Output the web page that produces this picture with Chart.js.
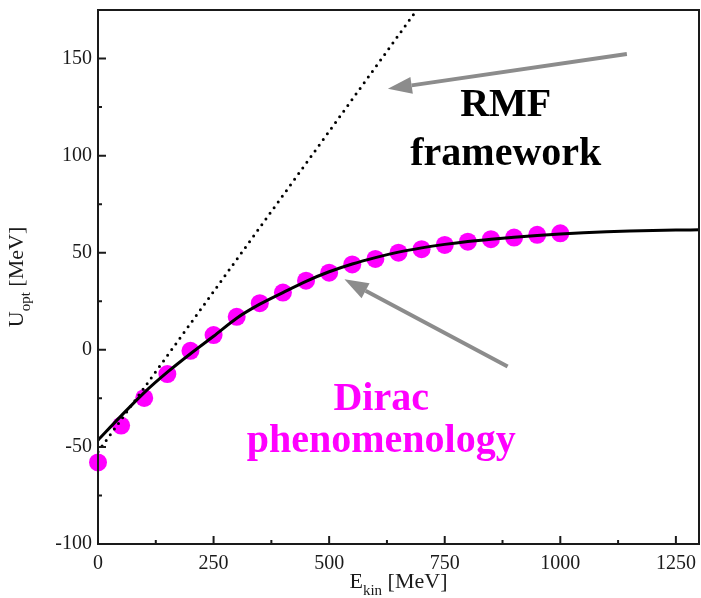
<!DOCTYPE html>
<html>
<head>
<meta charset="utf-8">
<script src="https://cdn.jsdelivr.net/npm/chart.js@4.4.1/dist/chart.umd.min.js"></script>
<style>
  html, body { margin: 0; padding: 0; background: #fff; overflow: hidden; }
  canvas { display: block; }
</style>
</head>
<body>
<canvas id="uoptChart" width="701" height="598"></canvas>
<script>
// Dirac phenomenology points (MeV)
const diracE = [0, 50, 100, 150, 200, 250, 300, 350, 400, 450, 500, 550, 600, 650, 700, 750, 800, 850, 900, 950, 1000];
const diracU = [-58, -39, -24.8, -12.5, -0.5, 7.6, 17, 24, 29.5, 35.6, 39.7, 44, 46.8, 50, 51.8, 54, 55.7, 57, 57.8, 59.2, 60];

// smooth fit curve
const fitE = [0, 50, 100, 150, 200, 250, 300, 350, 400, 450, 500, 550, 600, 650, 700, 750, 800, 850, 900, 950, 1000, 1050, 1100, 1150, 1200, 1250, 1300];
const fitU = [-46.5, -34, -22, -11.5, -2, 7, 16.3, 23.5, 29.5, 35.3, 40.2, 44.2, 47.5, 50.3, 52.5, 54.3, 55.8, 57.0, 58.0, 58.9, 59.7, 60.3, 60.8, 61.2, 61.5, 61.7, 61.8];

// RMF framework (straight line)
const rmfE = [0, 700];
const rmfU = [-52.5, 178.5];

const xTicks = [0, 250, 500, 750, 1000, 1250];
const yTicks = [-100, -50, 0, 50, 100, 150];

const pts = (xs, ys) => xs.map((v, i) => ({ x: v, y: ys[i] }));

const MAGENTA = '#ff00ff';
const INK = '#1a1a1a';
const SERIF = '"Liberation Serif", "Times New Roman", serif';

// frame, inward ticks, axis titles, arrows and labels
const decorations = {
    id: 'decorations',
    afterDraw(chart) {
        const { ctx, chartArea: a, scales: { x, y } } = chart;
        ctx.save();

        // frame
        ctx.strokeStyle = INK;
        ctx.lineWidth = 2;
        ctx.strokeRect(a.left, a.top, a.right - a.left, a.bottom - a.top);

        // ticks pointing into the plot
        ctx.beginPath();
        for (let v = 0; v <= 1300; v += 125) {
            const px = x.getPixelForValue(v);
            const len = v % 250 === 0 ? 8 : 4;
            ctx.moveTo(px, a.bottom); ctx.lineTo(px, a.bottom - len);
        }
        for (let v = -100; v <= 175; v += 25) {
            const py = y.getPixelForValue(v);
            const len = v % 50 === 0 ? 8 : 4;
            ctx.moveTo(a.left, py); ctx.lineTo(a.left + len, py);
        }
        ctx.stroke();

        // axis titles with subscripts
        ctx.fillStyle = INK;
        ctx.textBaseline = 'alphabetic';
        const drawTitle = (main, sub, rest) => {
            ctx.font = '22px ' + SERIF;
            const w1 = ctx.measureText(main).width;
            const w3 = ctx.measureText(rest).width;
            ctx.font = '15px ' + SERIF;
            const w2 = ctx.measureText(sub).width;
            let cx = -(w1 + w2 + w3) / 2;
            ctx.font = '22px ' + SERIF;
            ctx.fillText(main, cx, 0); cx += w1;
            ctx.font = '15px ' + SERIF;
            ctx.fillText(sub, cx, 7); cx += w2;
            ctx.font = '22px ' + SERIF;
            ctx.fillText(rest, cx, 0);
        };
        ctx.save();
        ctx.translate((a.left + a.right) / 2, 588);
        drawTitle('E', 'kin', ' [MeV]');
        ctx.restore();
        ctx.save();
        ctx.translate(23, (a.top + a.bottom) / 2);
        ctx.rotate(-Math.PI / 2);
        drawTitle('U', 'opt', ' [MeV]');
        ctx.restore();

        // arrows
        const arrow = (e0, u0, e1, u1) => {
            const x0 = x.getPixelForValue(e0), y0 = y.getPixelForValue(u0);
            const x1 = x.getPixelForValue(e1), y1 = y.getPixelForValue(u1);
            const ang = Math.atan2(y1 - y0, x1 - x0);
            const head = 24, half = 8.5;
            const bx = x1 - head * Math.cos(ang), by = y1 - head * Math.sin(ang);
            ctx.strokeStyle = '#8c8c8c';
            ctx.fillStyle = '#8c8c8c';
            ctx.lineWidth = 4;
            ctx.beginPath();
            ctx.moveTo(x0, y0); ctx.lineTo(bx, by);
            ctx.stroke();
            ctx.beginPath();
            ctx.moveTo(x1, y1);
            ctx.lineTo(bx + half * Math.sin(ang), by - half * Math.cos(ang));
            ctx.lineTo(bx - half * Math.sin(ang), by + half * Math.cos(ang));
            ctx.closePath();
            ctx.fill();
        };
        arrow(1144, 152.3, 627, 134.4);
        arrow(886, -8.6, 533, 36.3);

        // labels
        ctx.font = 'bold 40px ' + SERIF;
        ctx.textAlign = 'center';
        ctx.fillStyle = '#000';
        ctx.fillText('RMF', x.getPixelForValue(882), y.getPixelForValue(120.2));
        ctx.fillText('framework', x.getPixelForValue(882), y.getPixelForValue(95.3));
        ctx.fillStyle = MAGENTA;
        ctx.fillText('Dirac', x.getPixelForValue(612.6), y.getPixelForValue(-31.1));
        ctx.fillText('phenomenology', x.getPixelForValue(612.6), y.getPixelForValue(-52.6));

        ctx.restore();
    }
};

new Chart(document.getElementById('uoptChart'), {
    type: 'scatter',
    data: {
        datasets: [
            {
                label: 'Dirac phenomenology',
                data: pts(diracE, diracU),
                backgroundColor: MAGENTA,
                borderWidth: 0,
                pointRadius: 9,
                showLine: false,
                clip: false,
                order: 3
            },
            {
                label: 'fit',
                data: pts(fitE, fitU),
                borderColor: '#000',
                borderWidth: 3,
                pointRadius: 0,
                showLine: true,
                cubicInterpolationMode: 'monotone',
                order: 2
            },
            {
                label: 'RMF framework',
                data: pts(rmfE, rmfU),
                borderColor: '#000',
                borderWidth: 3,
                borderCapStyle: 'round',
                borderDash: [0, 7],
                pointRadius: 0,
                showLine: true,
                clip: 0,
                order: 1
            }
        ]
    },
    options: {
        responsive: false,
        animation: false,
        devicePixelRatio: 1,
        layout: { autoPadding: false, padding: { top: 10, right: 2, left: 0, bottom: 0 } },
        plugins: {
            legend: { display: false },
            tooltip: { enabled: false }
        },
        scales: {
            x: {
                type: 'linear',
                min: 0,
                max: 1300,
                grid: { display: false, drawTicks: false },
                border: { display: false },
                afterBuildTicks: s => { s.ticks = xTicks.map(v => ({ value: v })); },
                afterFit: s => { s.height = 54; s.paddingLeft = 0; s.paddingRight = 0; },
                ticks: {
                    padding: 8,
                    color: INK,
                    maxRotation: 0,
                    autoSkip: false,
                    callback: v => String(v),
                    font: { family: SERIF, size: 20 }
                }
            },
            y: {
                type: 'linear',
                min: -100,
                max: 175,
                grid: { display: false, drawTicks: false },
                border: { display: false },
                afterBuildTicks: s => { s.ticks = yTicks.map(v => ({ value: v })); },
                afterFit: s => { s.width = 98; s.paddingTop = 0; s.paddingBottom = 0; },
                ticks: {
                    padding: 6,
                    color: INK,
                    autoSkip: false,
                    callback: v => String(v),
                    font: { family: SERIF, size: 20 }
                }
            }
        }
    },
    plugins: [decorations]
});
</script>
</body>
</html>
